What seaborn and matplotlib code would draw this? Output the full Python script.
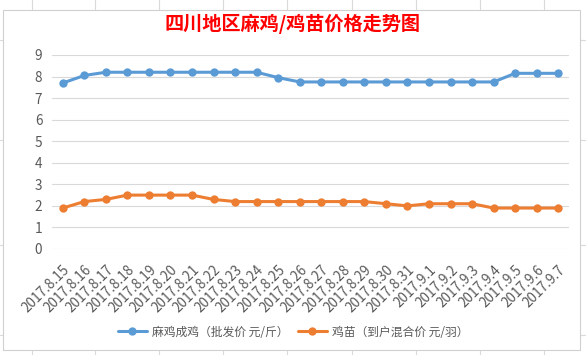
import matplotlib
matplotlib.use("Agg")
import matplotlib.pyplot as plt
import seaborn as sns
import pandas as pd
from matplotlib.patches import Rectangle
from matplotlib.lines import Line2D

dates = ["2017.8.15", "2017.8.16", "2017.8.17", "2017.8.18", "2017.8.19", "2017.8.20",
         "2017.8.21", "2017.8.22", "2017.8.23", "2017.8.24", "2017.8.25", "2017.8.26",
         "2017.8.27", "2017.8.28", "2017.8.29", "2017.8.30", "2017.8.31", "2017.9.1",
         "2017.9.2", "2017.9.3", "2017.9.4", "2017.9.5", "2017.9.6", "2017.9.7"]
adult = [7.7, 8.05, 8.2, 8.2, 8.2, 8.2, 8.2, 8.2, 8.2, 8.2, 7.95, 7.75,
         7.75, 7.75, 7.75, 7.75, 7.75, 7.75, 7.75, 7.75, 7.75, 8.15, 8.15, 8.15]
chick = [1.9, 2.2, 2.3, 2.5, 2.5, 2.5, 2.5, 2.3, 2.2, 2.2, 2.2, 2.2,
         2.2, 2.2, 2.2, 2.1, 2.0, 2.1, 2.1, 2.1, 1.9, 1.9, 1.9, 1.9]
name_adult = "麻鸡成鸡（批发价 元/斤）"
name_chick = "鸡苗（到户混合价 元/羽）"
title = "四川地区麻鸡/鸡苗价格走势图"

sns.set_theme(style="white")
plt.rcParams['font.family'] = ['Noto Sans CJK SC', 'DejaVu Sans']

df = pd.DataFrame({
    "date": dates * 2,
    "x": list(range(len(dates))) * 2,
    "value": adult + chick,
    "series": [name_adult] * len(dates) + [name_chick] * len(dates),
})

W, H = 586, 355
fig = plt.figure(figsize=(W / 100, H / 100), dpi=100)
fig.patch.set_facecolor("white")

# spreadsheet cell lines behind the chart
for xp in [32, 95, 159, 223, 287, 352, 416, 480, 544]:
    fig.add_artist(Line2D([xp / W, xp / W], [0, 1], color="#dadada", lw=0.8, zorder=-3))
for yp in [40, 140, 245, 335]:
    fig.add_artist(Line2D([0, 1], [1 - yp / H, 1 - yp / H], color="#dadada", lw=0.8, zorder=-3))
fig.add_artist(Rectangle((3 / W, 1 - 350 / H), 577 / W, 340 / H, transform=fig.transFigure,
                         facecolor="white", edgecolor="#d0d0d0", lw=0.8, zorder=-2))

ax = fig.add_axes([52 / W, 1 - 249 / H, 517 / W, 194 / H])
ax.set_facecolor("none")
palette = {name_adult: "#5B9BD5", name_chick: "#ED7D31"}
sns.lineplot(data=df, x="x", y="value", hue="series", palette=palette, marker="o",
             markersize=6, markeredgewidth=0, linewidth=2.2, ax=ax, legend=False)

ax.set_xlim(-0.5, len(dates) - 0.5)
ax.set_ylim(0, 9)
ax.set_yticks(range(0, 10))
ax.set_xticks(range(len(dates)))
ax.set_xticklabels(dates, rotation=45, ha="right", rotation_mode="anchor")
ax.tick_params(axis="both", length=0, labelsize=9.8, labelcolor="#595959")
ax.tick_params(axis="y", pad=7)
ax.tick_params(axis="x", pad=10)
ax.grid(axis="y", color="#d9d9d9", lw=0.8)
for s in ax.spines.values():
    s.set_visible(False)
ax.set_xlabel("")
ax.set_ylabel("")

fig.text(0.5, 1 - 24 / H, title, color="#FF0000", fontsize=13.8, fontweight="bold",
         ha="center", va="center")

handles = [Line2D([0], [0], color="#5B9BD5", lw=2.2, marker="o", markersize=6, markeredgewidth=0),
           Line2D([0], [0], color="#ED7D31", lw=2.2, marker="o", markersize=6, markeredgewidth=0)]
fig.legend(handles, [name_adult, name_chick], loc="center", bbox_to_anchor=(0.5, 1 - 332 / H),
           ncol=2, frameon=False, fontsize=8.5, labelcolor="#595959", handlelength=2.5,
           columnspacing=0.8, handletextpad=0.4)

fig.savefig("out.png", dpi=100)
